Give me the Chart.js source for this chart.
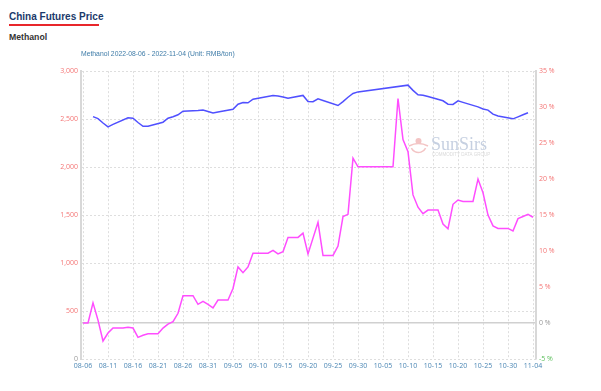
<!DOCTYPE html>
<html>
<head>
<meta charset="utf-8">
<script src="https://cdn.jsdelivr.net/npm/chart.js@4"></script>
<style>
  body { margin: 0; background: #fff; font-family: "Liberation Sans", Arial, sans-serif; }
  #page { position: relative; width: 601px; height: 391px; overflow: hidden; }
  .h1 { position: absolute; left: 9px; top: 12px; font-weight: bold; font-size: 10px; line-height: 1; color: #1b3a6b; }
  .bar { position: absolute; left: 9px; top: 24px; width: 90px; height: 2px; background: #e8262b; }
  .h2 { position: absolute; left: 9px; top: 32.5px; font-weight: bold; font-size: 8.7px; line-height: 1; color: #333; }
  #wrap { position: absolute; left: 0; top: 40px; width: 601px; height: 351px; }
</style>
</head>
<body>
<div id="page">
  <div class="h1">China Futures Price</div>
  <div class="bar"></div>
  <div class="h2">Methanol</div>
  <div id="wrap"><canvas id="chart"></canvas></div>
</div>
<script>
// x axis: one slot per calendar day, 2022-08-06 .. 2022-11-04 (91 days)
const tickLabels = ['08-06','08-11','08-16','08-21','08-26','08-31','09-05','09-10','09-15',
  '09-20','09-25','09-30','10-05','10-10','10-15','10-20','10-25','10-30','11-04'];

// futures price, RMB/ton (null = no trading that day)
const priceValues = [
  null, null, 2526, 2505, 2460, 2420, 2445, null, null,
  2515, 2510, 2465, 2425, 2425, null, null,
  2468, 2510, 2525, 2545, 2583, null, null,
  2590, 2594, 2580, 2564, 2575, null, null,
  2602, 2656, 2673, 2670, 2708, null, null, null,
  2747, 2740, 2730, 2719, null, null,
  2747, 2684, 2682, 2712, 2695, null, null,
  2642, 2683, 2728, 2767, 2784, null, null, null, null, null, null, null, null, null,
  2854, 2800, 2753, 2748, 2735, null, null,
  2691, 2656, 2653, 2691, 2675, null, null,
  2628, 2606, 2594, 2552, 2532, null, null,
  2503, 2524, 2545, 2566, null
];

// change, % (right axis)
const changeValues = [
  0, 0, 2.8, 0.4, -2.5, -1.4, -0.7, -0.7, -0.7,
  -0.6, -0.7, -2.0, -1.7, -1.5, -1.5, -1.5,
  -0.7, -0.15, 0.2, 1.35, 3.8, 3.8, 3.8,
  2.6, 3.0, 2.6, 2.1, 3.2, 3.2, 3.2,
  4.8, 7.8, 7.0, 7.8, 9.7, 9.7, 9.7, 9.7,
  10.1, 9.6, 9.9, 11.9, 11.9, 11.9,
  12.5, 9.6, 11.8, 14.0, 9.4, 9.4, 9.4,
  10.7, 14.8, 15.1, 22.9, 21.7, 21.7, 21.7, 21.7, 21.7, 21.7, 21.7, 21.7, 31.2, 25.5,
  23.8, 17.8, 16.1, 15.2, 15.7, 15.7, 15.7,
  13.75, 13.1, 16.5, 17.1, 16.9, 16.9, 16.9,
  20.0, 18.1, 15.0, 13.5, 13.15, 13.15, 13.15,
  12.8, 14.5, 14.8, 15.1, 14.7
];

const salmon = '#f47575';
const tickFont = { size: 7, family: '"Open Sans", "Liberation Sans", Arial, sans-serif' };

// faint SunSirs mark behind the lines
const watermark = {
  id: 'watermark',
  beforeDatasetsDraw(chart) {
    const c = chart.ctx;
    c.save();
    c.strokeStyle = '#f3c4c4';
    c.fillStyle = '#f3c4c4';
    c.lineWidth = 1.5;
    c.beginPath();
    c.arc(418.5, 104.5, 8, 0.15 * Math.PI, 0.85 * Math.PI);
    c.stroke();
    c.beginPath();
    c.arc(418.5, 101, 3, 0, 2 * Math.PI);
    c.fill();
    c.beginPath();
    c.moveTo(409, 106);
    c.quadraticCurveTo(418.5, 101, 428, 106);
    c.stroke();
    c.fillStyle = '#c6d0e1';
    c.font = '18px "Liberation Serif", "DejaVu Serif", serif';
    c.textBaseline = 'alphabetic';
    c.fillText('SunSirs', 431, 110);
    c.fillStyle = '#dadada';
    c.font = '4.5px "Liberation Sans", Arial, sans-serif';
    c.fillText('COMMODITY DATA GROUP', 432, 116);
    c.restore();
  }
};

new Chart(document.getElementById('chart'), {
  type: 'line',
  data: {
    datasets: [
      {
        label: 'Price',
        data: priceValues.map((v, i) => ({ x: i, y: v })),
        yAxisID: 'y',
        borderColor: '#5050ff',
        borderWidth: 1.5,
        spanGaps: true
      },
      {
        label: 'Change',
        data: changeValues.map((v, i) => ({ x: i, y: v })),
        yAxisID: 'y2',
        borderColor: '#ff4dff',
        borderWidth: 1.5
      }
    ]
  },
  options: {
    responsive: true,
    maintainAspectRatio: false,
    animation: false,
    elements: { point: { radius: 0 }, line: { tension: 0 } },
    layout: { padding: 0 },
    plugins: {
      legend: { display: false },
      tooltip: { enabled: false },
      title: {
        display: true,
        text: 'Methanol 2022-08-06 - 2022-11-04 (Unit: RMB/ton)',
        align: 'start',
        fullSize: false,
        color: '#3f7ca8',
        font: { size: 6.8, weight: 'normal', family: '"Liberation Sans", Arial, sans-serif' },
        padding: { top: 10.3, bottom: 12.7 }
      }
    },
    scales: {
      x: {
        type: 'linear',
        min: -0.4,
        max: 90.6,
        afterBuildTicks: s => { s.ticks = tickLabels.map((_, i) => ({ value: i * 5 })); },
        afterFit: s => { s.height = 32; },
        ticks: {
          autoSkip: false,
          maxRotation: 0,
          padding: 3,
          color: '#4a86b4',
          font: tickFont,
          callback: (v, i) => tickLabels[i]
        },
        grid: { color: '#dedede', drawTicks: false },
        border: { display: false, dash: [2, 2] }
      },
      y: {
        position: 'left',
        min: 0,
        max: 3000,
        afterFit: s => { s.width = 81; },
        ticks: {
          stepSize: 500,
          padding: 3,
          font: tickFont,
          color: ctx => ctx.tick.value === 0 ? '#999' : salmon,
          callback: v => v.toLocaleString('en-US')
        },
        grid: { color: '#dedede', drawTicks: false },
        border: { display: true, color: '#d8d8d8', width: 2, dash: [2, 2] }
      },
      y2: {
        position: 'right',
        min: -5,
        max: 35,
        afterFit: s => { s.width = 65; },
        ticks: {
          stepSize: 5,
          padding: 3,
          font: tickFont,
          color: ctx => ctx.tick.value > 0 ? salmon : (ctx.tick.value < 0 ? '#5cbf5c' : '#999'),
          callback: v => v + ' %'
        },
        grid: {
          drawTicks: false,
          lineWidth: 1.5,
          color: ctx => ctx.tick && ctx.tick.value === 0 ? '#d0d0d0' : 'rgba(0,0,0,0)'
        },
        border: { display: true, color: '#d8d8d8', width: 2 }
      }
    }
  },
  plugins: [watermark]
});
</script>
</body>
</html>
